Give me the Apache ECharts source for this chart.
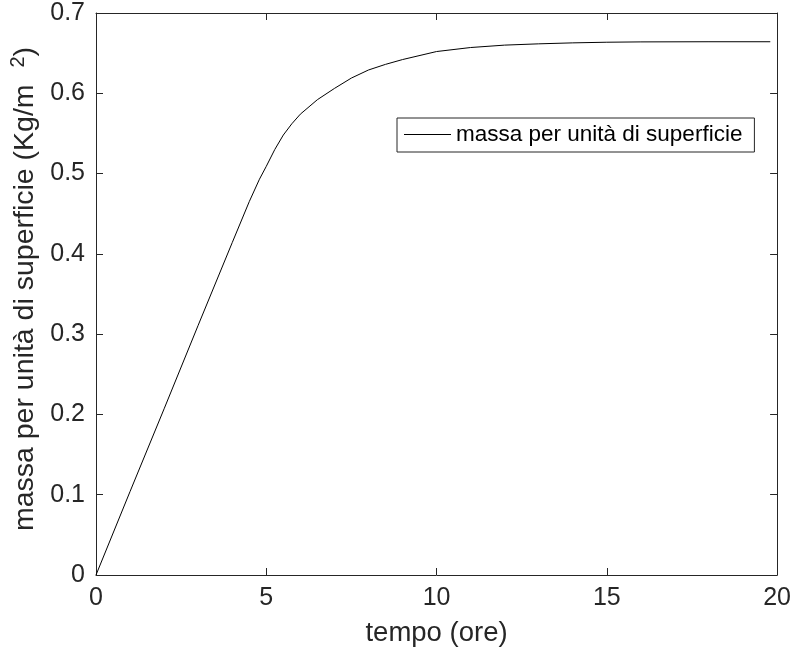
<!DOCTYPE html>
<html>
<head>
<meta charset="utf-8">
<script src="https://cdn.jsdelivr.net/npm/echarts@6/dist/echarts.min.js"></script>
<style>
  html, body { margin: 0; padding: 0; background: #fff; }
  #chart { width: 794px; height: 658px; }
</style>
</head>
<body>
<div id="chart"></div>
<script>
// tempo (ore)
var tempo = [0, 1, 2, 3, 4, 4.5, 4.8, 5, 5.25, 5.5, 5.75, 6, 6.5, 7, 7.5, 8, 8.5, 9, 10, 11, 12, 13, 14, 15, 16, 18, 19.8];
// massa per unità di superficie
var massa = [0, 0.104, 0.207, 0.311, 0.414, 0.465, 0.493, 0.509, 0.530, 0.548, 0.562, 0.574, 0.592, 0.606, 0.619, 0.629, 0.636, 0.642, 0.652, 0.657, 0.660, 0.6616, 0.6628, 0.6636, 0.664, 0.6642, 0.6642];
var xTicks = [0, 5, 10, 15, 20];
var yTicks = [0, 0.1, 0.2, 0.3, 0.4, 0.5, 0.6, 0.7];
var seriesName = 'massa per unità di superficie';

var fontFam = 'Liberation Sans, Arial, Helvetica, sans-serif';
var axisCol = '#262626';

var points = tempo.map(function (t, i) { return [t, massa[i]]; });

function axisBase (extra) {
  var a = {
    type: 'value',
    axisLine: { show: true, onZero: false, lineStyle: { color: axisCol, width: 1 } },
    axisTick: { show: true, inside: true, length: 7, lineStyle: { color: axisCol } },
    splitLine: { show: false },
    axisLabel: { color: axisCol, fontFamily: fontFam, fontSize: 25 }
  };
  return Object.assign(a, extra);
}

var chart = echarts.init(document.getElementById('chart'));
chart.setOption({
  animation: false,
  backgroundColor: '#fff',
  grid: { left: 96, right: 14, top: 13, bottom: 83, containLabel: false },
  legend: {
    left: 397,
    top: 118,
    data: [{ name: seriesName, icon: 'rect' }],
    orient: 'vertical',
    backgroundColor: '#fff',
    borderColor: axisCol,
    borderWidth: 1,
    padding: [5, 12, 6, 7],
    itemWidth: 47,
    itemHeight: 1,
    itemGap: 5,
    textStyle: { color: '#000', fontFamily: fontFam, fontSize: 22.5 }
  },
  xAxis: [
    axisBase({
      min: xTicks[0], max: xTicks[xTicks.length - 1], interval: 5,
      name: 'tempo (ore)', nameLocation: 'middle', nameGap: 44,
      nameTextStyle: { color: axisCol, fontFamily: fontFam, fontSize: 27.5 },
      axisLabel: { color: axisCol, fontFamily: fontFam, fontSize: 25, margin: 11 }
    }),
    axisBase({
      position: 'top', min: xTicks[0], max: xTicks[xTicks.length - 1], interval: 5,
      axisLabel: { show: false }
    })
  ],
  yAxis: [
    axisBase({
      min: yTicks[0], max: yTicks[yTicks.length - 1], interval: 0.1,
      name: '{t|massa per unità di superficie (Kg/m }{sup|2}{t|)}',
      nameLocation: 'middle', nameGap: 46,
      nameTextStyle: {
        color: axisCol, fontFamily: fontFam, fontSize: 28.5,
        padding: [0, 0, 0, 10],
        rich: {
          t: { fontFamily: fontFam, fontSize: 28.5, lineHeight: 33, color: axisCol },
          sup: { fontFamily: fontFam, fontSize: 20, lineHeight: 20, verticalAlign: 'top', color: axisCol, padding: [0, 0, 0, 9] }
        }
      },
      axisLabel: {
        color: axisCol, fontFamily: fontFam, fontSize: 25, margin: 11,
        formatter: function (v) { return String(Math.round(v * 10) / 10); }
      }
    }),
    axisBase({
      position: 'right', min: yTicks[0], max: yTicks[yTicks.length - 1], interval: 0.1,
      axisLabel: { show: false }
    })
  ],
  series: [{
    name: seriesName,
    type: 'line',
    data: points,
    symbol: 'none',
    smooth: false,
    lineStyle: { color: '#000', width: 1 },
    itemStyle: { color: '#000' }
  }]
});
</script>
</body>
</html>
